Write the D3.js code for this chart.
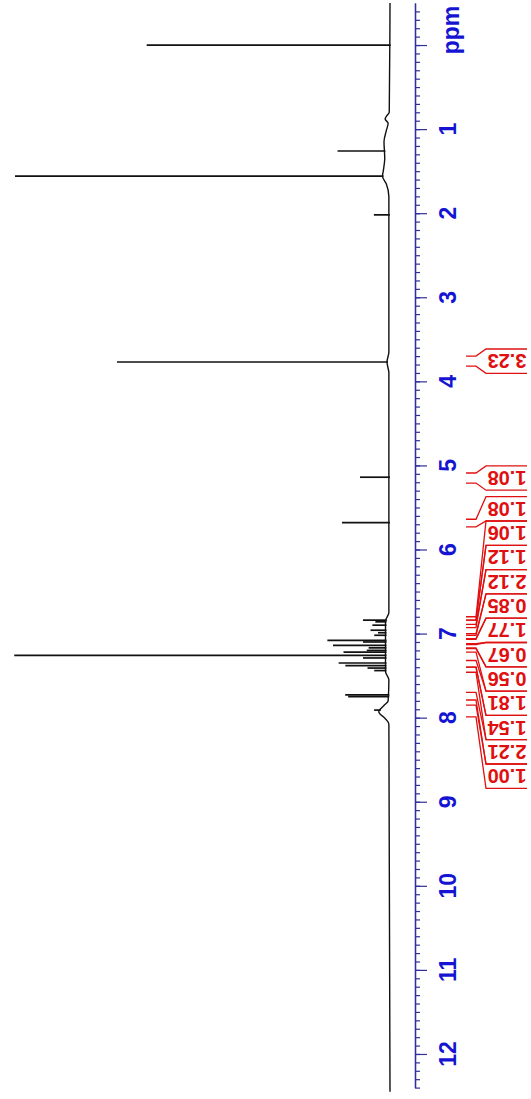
<!DOCTYPE html>
<html>
<head>
<meta charset="utf-8">
<script src="https://cdn.jsdelivr.net/npm/d3@7"></script>
<style>
  body { margin: 0; background: #fff; }
  svg { display: block; font-family: "Liberation Sans", Arial, sans-serif; }
</style>
</head>
<body>
<svg id="chart"></svg>
<script>
// Peak positions (ppm) and heights (arbitrary units, 100 = tallest)
const peakPpm = [0.00, 1.26, 1.56, 2.02, 3.77, 5.14, 5.68,
  6.84, 6.86, 6.90, 6.96, 6.99, 7.02, 7.08, 7.10, 7.14, 7.17, 7.20, 7.22,
  7.26, 7.29, 7.35, 7.38, 7.41, 7.44, 7.73, 7.75, 7.91];
const peakHeight = [64.8, 12.5, 98, 4, 72, 7.7, 12.5,
  6.1, 2.7, 3.5, 4, 2, 3, 15.5, 6, 14, 4.5, 5, 11.2,
  99, 6, 12.5, 10.7, 4.8, 3, 11.5, 10.7, 1.5];

// Baseline drift (ppm, level)
const basePpm = [-0.5, 0.80, 0.85, 0.88, 0.93, 1.02, 1.15, 1.35, 1.50, 1.56, 1.65, 1.80,
  3.65, 3.77, 3.90, 6.75, 6.85, 7.45, 7.55, 7.80, 7.85, 7.90, 7.93, 7.96, 8.00, 8.08, 12.45];
const baseLevel = [0, 0.2, 1.0, 1.3, 0.5, 1.0, 1.6, 1.4, 1.8, 2.0, 1.0, 0.3,
  0.3, 0.8, 0.3, 0.3, 1.2, 1.2, 0.3, 0.5, 1.5, 2.6, 3.0, 2.6, 1.5, 0.3, 0];

// Integrals: region start/end (ppm) and values
const integralFrom = [3.70, 5.09, 5.64, 6.80, 6.84, 6.93, 7.02, 7.07, 7.13, 7.18, 7.32, 7.40, 7.70, 7.85];
const integralTo   = [3.82, 5.21, 5.73, 6.84, 6.89, 7.00, 7.06, 7.12, 7.17, 7.22, 7.40, 7.46, 7.79, 7.99];
const integralValue = ["3.23", "1.08", "1.08", "1.06", "1.12", "2.12", "0.85", "1.77",
  "0.67", "0.56", "1.81", "1.54", "2.21", "1.00"];

// Axis tick labels
const tickLabels = [1, 2, 3, 4, 5, 6, 7, 8, 9, 10, 11, 12];

const W = 531, H = 1099;
const svg = d3.select("#chart").attr("width", W).attr("height", H);
svg.append("rect").attr("width", W).attr("height", H).attr("fill", "#fff");

// ppm runs downward, intensity runs leftward
const y = d3.scaleLinear().domain([-0.5, 12.4]).range([3, 1087.6]);
const x = d3.scaleLinear().domain([0, 100]).range([390, 15]);
const base = d3.scaleLinear().domain(basePpm).range(baseLevel);

// baseline
svg.append("path")
    .datum(basePpm.map((p, i) => [p, baseLevel[i]]))
    .attr("fill", "none")
    .attr("stroke", "#111")
    .attr("stroke-width", 1.4)
    .attr("d", d3.line().curve(d3.curveMonotoneY).x(d => x(d[1])).y(d => y(d[0])));

// peaks
svg.selectAll(".peak")
    .data(peakPpm.map((p, i) => ({ p, h: peakHeight[i] })))
  .enter().append("line")
    .attr("class", "peak")
    .attr("x1", d => x(base(d.p)) + 1)
    .attr("x2", d => x(base(d.p) + d.h))
    .attr("y1", d => y(d.p))
    .attr("y2", d => y(d.p))
    .attr("stroke", "#111")
    .attr("stroke-width", 1.7);

// axis
const axisColor = "#2f2f9a";
const labelColor = "#1414d2";
const axisX = 415;

svg.append("g")
    .attr("transform", `translate(${axisX},0)`)
    .call(d3.axisRight(y)
      .tickValues(d3.range(-4, 125).map(i => i / 10))
      .tickSize(5).tickSizeOuter(0).tickFormat(""));
svg.append("g")
    .attr("transform", `translate(${axisX},0)`)
    .call(d3.axisRight(y)
      .tickValues(d3.range(0, 13))
      .tickSize(12).tickSizeOuter(0).tickFormat(""));
svg.selectAll(".domain").attr("stroke", axisColor).attr("stroke-width", 1.3);
svg.selectAll(".tick line").attr("stroke", axisColor).attr("stroke-width", 1.2);

svg.selectAll(".tlabel")
    .data(tickLabels)
  .enter().append("text")
    .attr("class", "tlabel")
    .attr("transform", d => `translate(448,${y(d)}) rotate(-90)`)
    .attr("text-anchor", "middle")
    .attr("dominant-baseline", "central")
    .attr("font-size", 23)
    .attr("font-weight", "bold")
    .attr("fill", labelColor)
    .text(d => d);

svg.append("text")
    .attr("transform", `translate(451,${y(0) - 15}) rotate(-90)`)
    .attr("text-anchor", "middle")
    .attr("dominant-baseline", "central")
    .attr("font-size", 23)
    .attr("font-weight", "bold")
    .attr("fill", labelColor)
    .text("ppm");

// integral labels: stack overlapping ones around their mean position
const boxH = 24.3;
let groups = integralValue.map((v, i) => ({
  items: [i],
  want: [y((integralFrom[i] + integralTo[i]) / 2)]
}));
function place(g) {
  const c = d3.mean(g.want);
  g.top = c - g.items.length * boxH / 2;
  g.bottom = g.top + g.items.length * boxH;
}
groups.forEach(place);
let merged = true;
while (merged) {
  merged = false;
  for (let k = 0; k < groups.length - 1; k++) {
    if (groups[k].bottom > groups[k + 1].top) {
      const g = { items: groups[k].items.concat(groups[k + 1].items),
                  want: groups[k].want.concat(groups[k + 1].want) };
      place(g);
      groups.splice(k, 2, g);
      merged = true;
      break;
    }
  }
}
const centers = [];
groups.forEach(g => g.items.forEach((i, k) => { centers[i] = g.top + (k + 0.5) * boxH; }));

const red = "#e01010";
const integ = svg.append("g");
integralValue.forEach((v, i) => {
  const c = centers[i];
  const edges = [[integralFrom[i], c - boxH / 2], [integralTo[i], c + boxH / 2]];
  edges.forEach(([p, e]) => {
    integ.append("path")
      .attr("fill", "none")
      .attr("stroke", red)
      .attr("stroke-width", 1.3)
      .attr("d", d3.line()([[466, y(p)], [476, y(p)], [486, e], [527, e]]));
  });
  integ.append("text")
    .attr("transform", `translate(507,${c}) rotate(180)`)
    .attr("text-anchor", "middle")
    .attr("dominant-baseline", "central")
    .attr("font-size", 20)
    .attr("font-weight", "bold")
    .attr("fill", red)
    .text(v);
});
</script>
</body>
</html>
